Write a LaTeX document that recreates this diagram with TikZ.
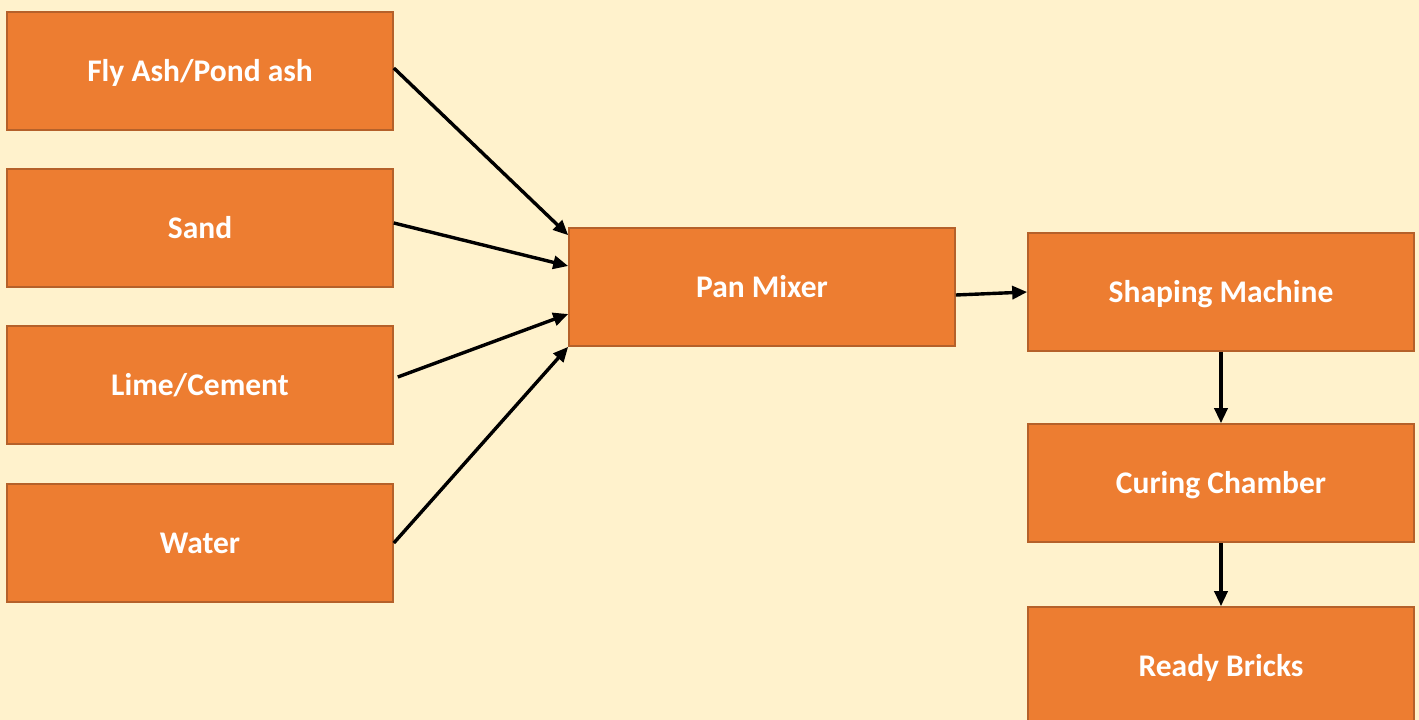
\documentclass[tikz,border=0pt]{standalone}
\usepackage{fontspec}
\setmainfont{Carlito}
\usetikzlibrary{arrows.meta}
\definecolor{bg}{HTML}{FFF2CC}
\definecolor{boxfill}{HTML}{ED7D31}
\definecolor{boxline}{HTML}{B5612A}
\tikzset{
  procbox/.style={rectangle, draw=boxline, line width=1.6pt, fill=boxfill,
    minimum width=386pt, minimum height=118pt, inner sep=0pt,
    text height=20pt, text depth=0pt,
    text=white, font=\fontsize{31.5}{36}\selectfont\bfseries},
  flow/.style={line width=3.4pt, -{Triangle[length=15pt,width=13pt]}}
}
\begin{document}
\begin{tikzpicture}[x=1pt,y=-1pt]
\fill[bg] (0,0) rectangle (1419,720);
\useasboundingbox (0,0) rectangle (1419,720);
\node[procbox] (fly) at (200,71) {Fly Ash/Pond ash};
\node[procbox] (sand) at (200,228) {Sand};
\node[procbox] (lime) at (200,385) {Lime/Cement};
\node[procbox] (water) at (200,543) {Water};
\node[procbox] (mixer) at (762,287) {Pan Mixer};
\node[procbox] (shape) at (1221,292) {Shaping Machine};
\node[procbox] (cure) at (1221,483) {Curing Chamber};
\node[procbox] (ready) at (1221,666) {Ready Bricks};
\draw[flow] ([yshift=3pt]fly.east) -- ([yshift=-8pt]mixer.north west);
\draw[flow] ([yshift=5pt]sand.east) -- ([yshift=21pt]mixer.west);
\draw[flow] ([xshift=4pt,yshift=8pt]lime.east) -- ([yshift=-27pt]mixer.west);
\draw[flow] (water.east) -- (mixer.south west);
\draw[flow] ([yshift=-8pt]mixer.east) -- (shape.west);
\draw[flow] (shape.south) -- (cure.north);
\draw[flow] (cure.south) -- (ready.north);
\end{tikzpicture}
\end{document}
